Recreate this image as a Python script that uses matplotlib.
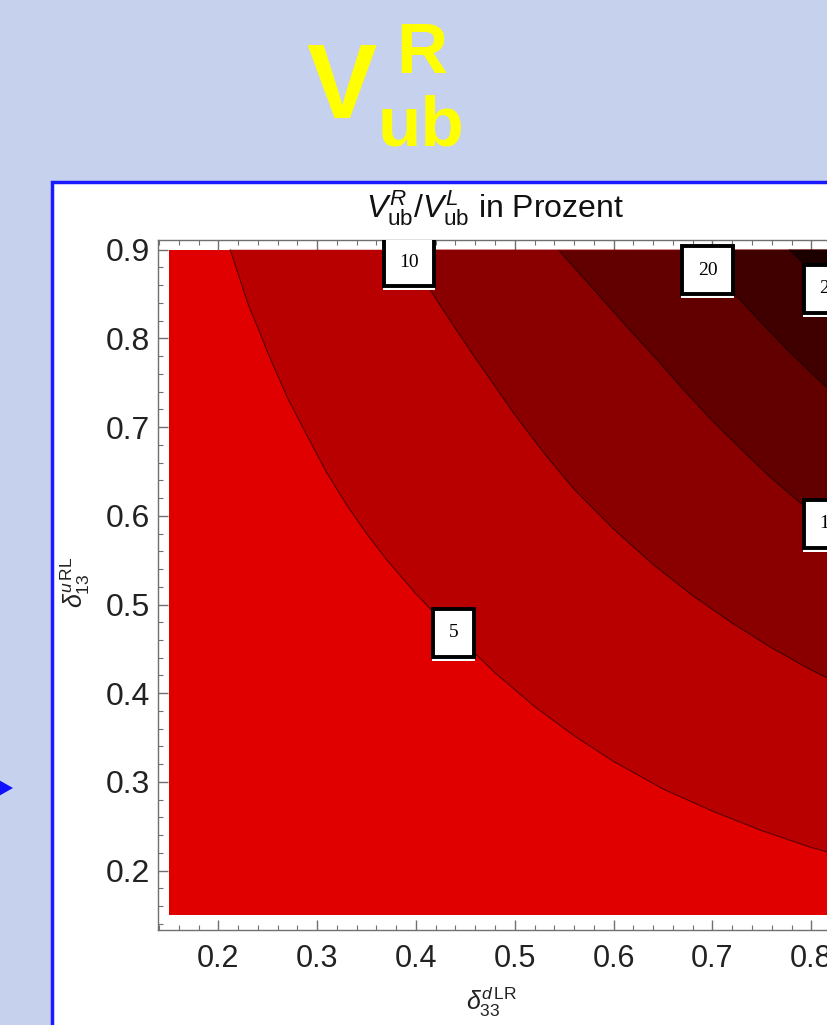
import matplotlib.pyplot as plt
from matplotlib.patches import Rectangle, Polygon
from matplotlib.ticker import MultipleLocator
from matplotlib.transforms import IdentityTransform

plt.rcParams['font.family'] = 'Liberation Sans'
plt.rcParams['mathtext.fontset'] = 'custom'
plt.rcParams['mathtext.rm'] = 'Liberation Sans'
plt.rcParams['mathtext.it'] = 'Liberation Sans:italic'
plt.rcParams['mathtext.bf'] = 'Liberation Sans:bold'

# data range of the contour plot
x_range = [0.15, 0.9]
y_range = [0.15, 0.9]

# contour lines (top edge -> right edge)
levels = [5, 10, 15, 20, 25]
c5_x = [0.212, 0.22, 0.23, 0.24, 0.25, 0.27, 0.29, 0.31, 0.33, 0.35, 0.37, 0.40, 0.44,
        0.48, 0.52, 0.56, 0.60, 0.65, 0.70, 0.75, 0.80, 0.85, 0.90]
c5_y = [0.900, 0.873, 0.839, 0.812, 0.784, 0.733, 0.690, 0.648, 0.612, 0.580, 0.551, 0.512, 0.466,
        0.423, 0.385, 0.352, 0.323, 0.292, 0.267, 0.245, 0.226, 0.211, 0.197]
c10_x = [0.39, 0.40, 0.42, 0.44, 0.46, 0.48, 0.50, 0.53, 0.56, 0.60, 0.64, 0.68, 0.72,
         0.76, 0.80, 0.85, 0.90]
c10_y = [0.900, 0.880, 0.845, 0.811, 0.778, 0.746, 0.714, 0.670, 0.630, 0.585, 0.545, 0.510, 0.479,
         0.451, 0.426, 0.399, 0.374]
c15_x = [0.545, 0.56, 0.58, 0.60, 0.62, 0.644, 0.67, 0.70, 0.73, 0.76, 0.80, 0.85, 0.90]
c15_y = [0.899, 0.880, 0.855, 0.830, 0.805, 0.776, 0.743, 0.707, 0.674, 0.642, 0.604, 0.562, 0.526]
c20_x = [0.683, 0.70, 0.725, 0.75, 0.776, 0.80, 0.83, 0.86, 0.90]
c20_y = [0.900, 0.879, 0.847, 0.817, 0.787, 0.761, 0.730, 0.701, 0.667]
c25_x = [0.778, 0.80, 0.817, 0.84, 0.87, 0.90]
c25_y = [0.900, 0.875, 0.856, 0.833, 0.805, 0.778]

region_colors = ['#e10000', '#b80000', '#8a0000', '#620000', '#400000', '#1c0000']

# contour labels
label_text = ['5', '10', '15', '20', '25']
label_x = [0.438, 0.393, 0.818, 0.695, 0.818]
label_y = [0.468, 0.886, 0.591, 0.877, 0.856]

W, H = 828, 1025
fig = plt.figure(figsize=(W / 100, H / 100), dpi=100, facecolor='#c6d1ee')

# white slide panel with blue border
fig.patches.append(Rectangle((52 / W, -0.2), 1.3, 1 - 182 / H + 0.2, transform=fig.transFigure,
                             fc='white', ec='#1a1aff', lw=2.5, zorder=-5))
# little blue arrow on the left
fig.patches.append(Polygon([(-0.01, 1 - 776 / H), (13 / W, 1 - 788 / H), (-0.01, 1 - 800 / H)],
                           closed=True, transform=fig.transFigure, fc='#1010ff', ec='none', zorder=-5))

# yellow slide title
fig.text(306 / W, 1 - 118 / H, 'V', fontsize=76, fontweight='bold', color='#ffff00', va='baseline')
fig.text(396 / W, 1 - 73 / H, 'R', fontsize=51, fontweight='bold', color='#ffff00', va='baseline')
fig.text(378 / W, 1 - 145 / H, 'ub', fontsize=51, fontweight='bold', color='#ffff00', va='baseline')

ax = fig.add_axes([158 / W, 1 - 930 / H, (921 - 158) / W, 690 / H])
ax.set_facecolor('white')

x0, x1 = x_range
y0, y1 = y_range
ax.add_patch(Rectangle((x0, y0), x1 - x0, y1 - y0, fc=region_colors[0], ec='none', zorder=1))
contours = [(c5_x, c5_y), (c10_x, c10_y), (c15_x, c15_y), (c20_x, c20_y), (c25_x, c25_y)]
for k, (cx, cy) in enumerate(contours):
    pts = list(zip(cx, cy)) + [(x1, y1)]
    ax.add_patch(Polygon(pts, closed=True, fc=region_colors[k + 1], ec='none', zorder=2))
    ax.plot(cx, cy, color='black', lw=0.8, alpha=0.55, zorder=3)

# framed contour labels
labels = []
for t, lx, ly in zip(label_text, label_x, label_y):
    labels.append(ax.text(lx, ly, t, ha='center', va='center', family='Liberation Serif',
                          fontsize=14, zorder=5, clip_on=True,
                          bbox=dict(boxstyle='square,pad=0.8', fc='white', ec='black', lw=2.8)))

ax.set_xlim(0.139, 0.911)
ax.set_ylim(0.133, 0.911)
ax.set_xticks([0.2, 0.3, 0.4, 0.5, 0.6, 0.7, 0.8, 0.9])
ax.set_yticks([0.2, 0.3, 0.4, 0.5, 0.6, 0.7, 0.8, 0.9])
ax.xaxis.set_minor_locator(MultipleLocator(0.02))
ax.yaxis.set_minor_locator(MultipleLocator(0.02))
ax.tick_params(which='both', direction='in', top=True, right=True, color='#707070')
ax.tick_params(which='major', length=7, width=1)
ax.tick_params(which='minor', length=3.5, width=0.8)
ax.tick_params(axis='x', labelsize=22, pad=10, labelcolor='#222222')
ax.tick_params(axis='y', labelsize=23, pad=6, labelcolor='#222222')
for s in ax.spines.values():
    s.set_color('#707070')
    s.set_linewidth(1)

fig.text(495 / W, 1 - 208 / H, r'$V_{\mathrm{ub}}^{R}/V_{\mathrm{ub}}^{L}$ in Prozent',
         fontsize=23, ha='center', va='center', color='#111111')
fig.text(75 / W, 1 - 582 / H, r'$\delta_{13}^{u\,\mathrm{RL}}$', fontsize=18, rotation=90,
         ha='center', va='center', color='#222222')
fig.text(492 / W, 1 - 1002 / H, r'$\delta_{33}^{d\,\mathrm{LR}}$', fontsize=18,
         ha='center', va='center', color='#222222')

# thin white strip under each label frame (like the Mathematica style)
fig.canvas.draw()
renderer = fig.canvas.get_renderer()
for lab in labels:
    bb = lab.get_bbox_patch().get_window_extent(renderer)
    strip = Rectangle((bb.x0 - 1, bb.y0 - 4), bb.width + 2, 4, transform=IdentityTransform(),
                      fc='white', ec='none', zorder=4)
    ax.add_artist(strip)
    strip.set_clip_path(ax.patch)

fig.savefig('out.png', dpi=100, facecolor=fig.get_facecolor())
